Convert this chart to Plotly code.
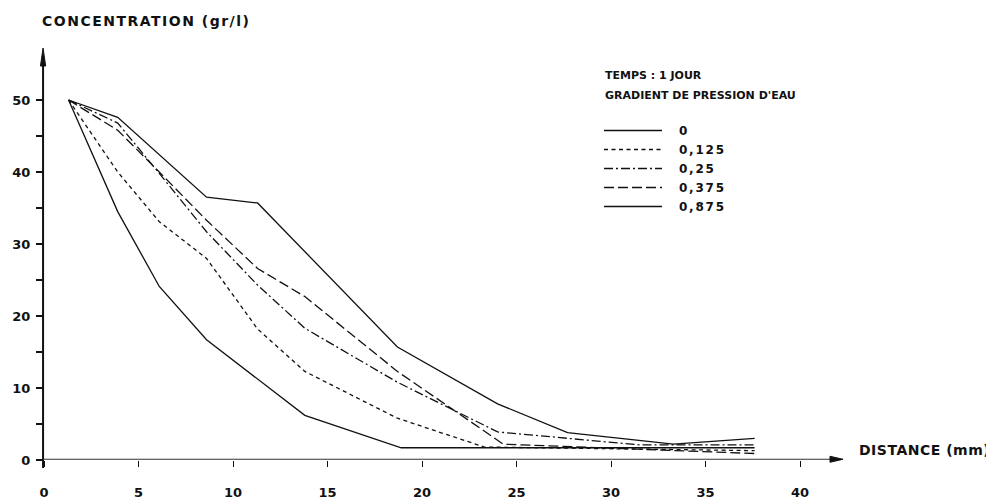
import plotly.graph_objects as go

# ---------------- data ----------------
gradients = ["0", "0,125", "0,25", "0,375", "0,875"]

x_g0 = [1.3, 3.9, 6.1, 8.6, 13.8, 18.9, 37.6]
y_g0 = [50, 34.5, 24.1, 16.7, 6.2, 1.7, 1.7]

x_g0125 = [1.3, 3.9, 6.1, 8.6, 11.3, 13.8, 18.7, 23.3, 37.6]
y_g0125 = [50, 40.0, 33.1, 28.0, 18.2, 12.3, 5.8, 1.8, 1.3]

x_g025 = [1.3, 3.9, 6.1, 8.6, 11.3, 13.8, 18.7, 24.0, 31.5, 37.6]
y_g025 = [50, 46.8, 39.8, 31.7, 24.3, 18.3, 10.8, 3.9, 2.1, 2.1]

x_g0375 = [1.3, 3.9, 6.1, 8.6, 11.3, 13.8, 18.7, 23.3, 24.3, 37.6]
y_g0375 = [50, 45.8, 40.0, 33.3, 26.6, 22.7, 12.3, 3.9, 2.2, 0.9]

x_g0875 = [1.3, 3.9, 8.6, 11.3, 18.7, 24.0, 27.7, 33.3, 37.6]
y_g0875 = [50, 47.6, 36.5, 35.7, 15.7, 7.8, 3.8, 2.2, 3.0]

x_ticks = [0, 5, 10, 15, 20, 25, 30, 35, 40]
x_ticklabels = ["0", "5", "10", "15", "20", "25", "30", "35", "40"]
y_ticks = [0, 5, 10, 15, 20, 25, 30, 35, 40, 45, 50]
y_ticklabels = ["0", "", "10", "", "20", "", "30", "", "40", "", "50"]

series_x = [x_g0, x_g0125, x_g025, x_g0375, x_g0875]
series_y = [y_g0, y_g0125, y_g025, y_g0375, y_g0875]
dashes = ["solid", "4px,3.5px", "9px,3px,2px,3px", "10px,4px", "solid"]

# ---------------- geometry (page body has an 8px margin) ----------------
OFF = 8
W, H = 994 - OFF, 502 - OFF
X0_PX, PX_PER_MM = 44.0 - OFF, 18.9
Y0_PX, PX_PER_UNIT = 460.0 - OFF, 7.2
x_range = [-X0_PX / PX_PER_MM, (W - X0_PX) / PX_PER_MM]
y_range = [(Y0_PX - H) / PX_PER_UNIT, Y0_PX / PX_PER_UNIT]


def px(ref_x):
    return (ref_x - OFF) / W


def py(ref_y):
    return 1 - (ref_y - OFF) / H


FONT = "DejaVu Sans"
INK = "#111111"


def spaced(s, ls):
    return f'<span style="letter-spacing:{ls}px">{s}</span>'


fig = go.Figure()
for name, xs, ys, d in zip(gradients, series_x, series_y, dashes):
    fig.add_trace(go.Scatter(
        x=xs, y=ys, mode="lines", name=spaced("\u00a0\u00a0" + name, 1.8),
        line=dict(color=INK, width=1.3, dash=d),
        hoverinfo="x+y",
    ))

# axis lines with arrows (decoration), positions in reference pixels
ytip = (460 - 48) / PX_PER_UNIT
ybase = (460 - 66) / PX_PER_UNIT
xtip = (843 - 44) / PX_PER_MM
xbase = (830 - 44) / PX_PER_MM
hw_x = 2.6 / PX_PER_MM
hw_y = 3.0 / PX_PER_UNIT
ax_x = -0.05
shapes = [
    dict(type="line", x0=ax_x, x1=ax_x, y0=-8 / PX_PER_UNIT, y1=ybase + 0.3,
         line=dict(color=INK, width=2)),
    dict(type="path", path=f"M {ax_x},{ytip} L {ax_x - hw_x},{ybase} L {ax_x + hw_x},{ybase} Z",
         fillcolor=INK, line=dict(color=INK, width=1)),
    dict(type="line", x0=ax_x, x1=xbase + 0.1, y0=0.1, y1=0.1,
         line=dict(color="#333333", width=1.1)),
    dict(type="path", path=f"M {xtip},0.1 L {xbase},{0.1 + hw_y} L {xbase},{0.1 - hw_y} Z",
         fillcolor=INK, line=dict(color=INK, width=1)),
]

annotations = [
    dict(text=spaced("CONCENTRATION (gr/l)", 1.5), x=px(40), y=py(21), xref="paper", yref="paper",
         xanchor="left", yanchor="middle", showarrow=False,
         font=dict(family=FONT, size=14, color=INK, weight="bold")),
    dict(text=spaced("DISTANCE (mm)", 0.5), x=px(857), y=py(450), xref="paper", yref="paper",
         xanchor="left", yanchor="middle", showarrow=False,
         font=dict(family=FONT, size=14, color=INK, weight="bold")),
    dict(text="TEMPS : 1 JOUR", x=px(603), y=py(75), xref="paper", yref="paper",
         xanchor="left", yanchor="middle", showarrow=False,
         font=dict(family=FONT, size=11, color=INK, weight="bold")),
    dict(text="GRADIENT DE PRESSION D'EAU", x=px(603), y=py(95), xref="paper", yref="paper",
         xanchor="left", yanchor="middle", showarrow=False,
         font=dict(family=FONT, size=11, color=INK, weight="bold")),
]

fig.update_layout(
    width=W, height=H, template="none",
    margin=dict(l=0, r=0, t=0, b=0, pad=0),
    paper_bgcolor="white", plot_bgcolor="white",
    showlegend=True,
    legend=dict(x=px(599), y=py(116), xanchor="left", yanchor="top",
                itemwidth=58, bgcolor="rgba(0,0,0,0)", borderwidth=0,
                font=dict(family=FONT, size=12, color=INK, weight="bold"),
                tracegroupgap=0),
    xaxis=dict(range=x_range, anchor="free", position=1 - Y0_PX / H,
               showline=False, showgrid=False, zeroline=False,
               ticks="outside", ticklen=6, tickwidth=1, tickcolor=INK,
               tickvals=x_ticks, ticktext=x_ticklabels, ticklabelstandoff=14,
               tickfont=dict(family=FONT, size=13, color=INK, weight="bold")),
    yaxis=dict(range=y_range, anchor="free", position=X0_PX / W,
               showline=False, showgrid=False, zeroline=False,
               ticks="outside", ticklen=8, tickwidth=1.5, tickcolor=INK,
               tickvals=y_ticks, ticktext=y_ticklabels, ticklabelstandoff=3,
               tickfont=dict(family=FONT, size=13, color=INK, weight="bold")),
    shapes=shapes, annotations=annotations,
)

fig.write_html("out.html")
